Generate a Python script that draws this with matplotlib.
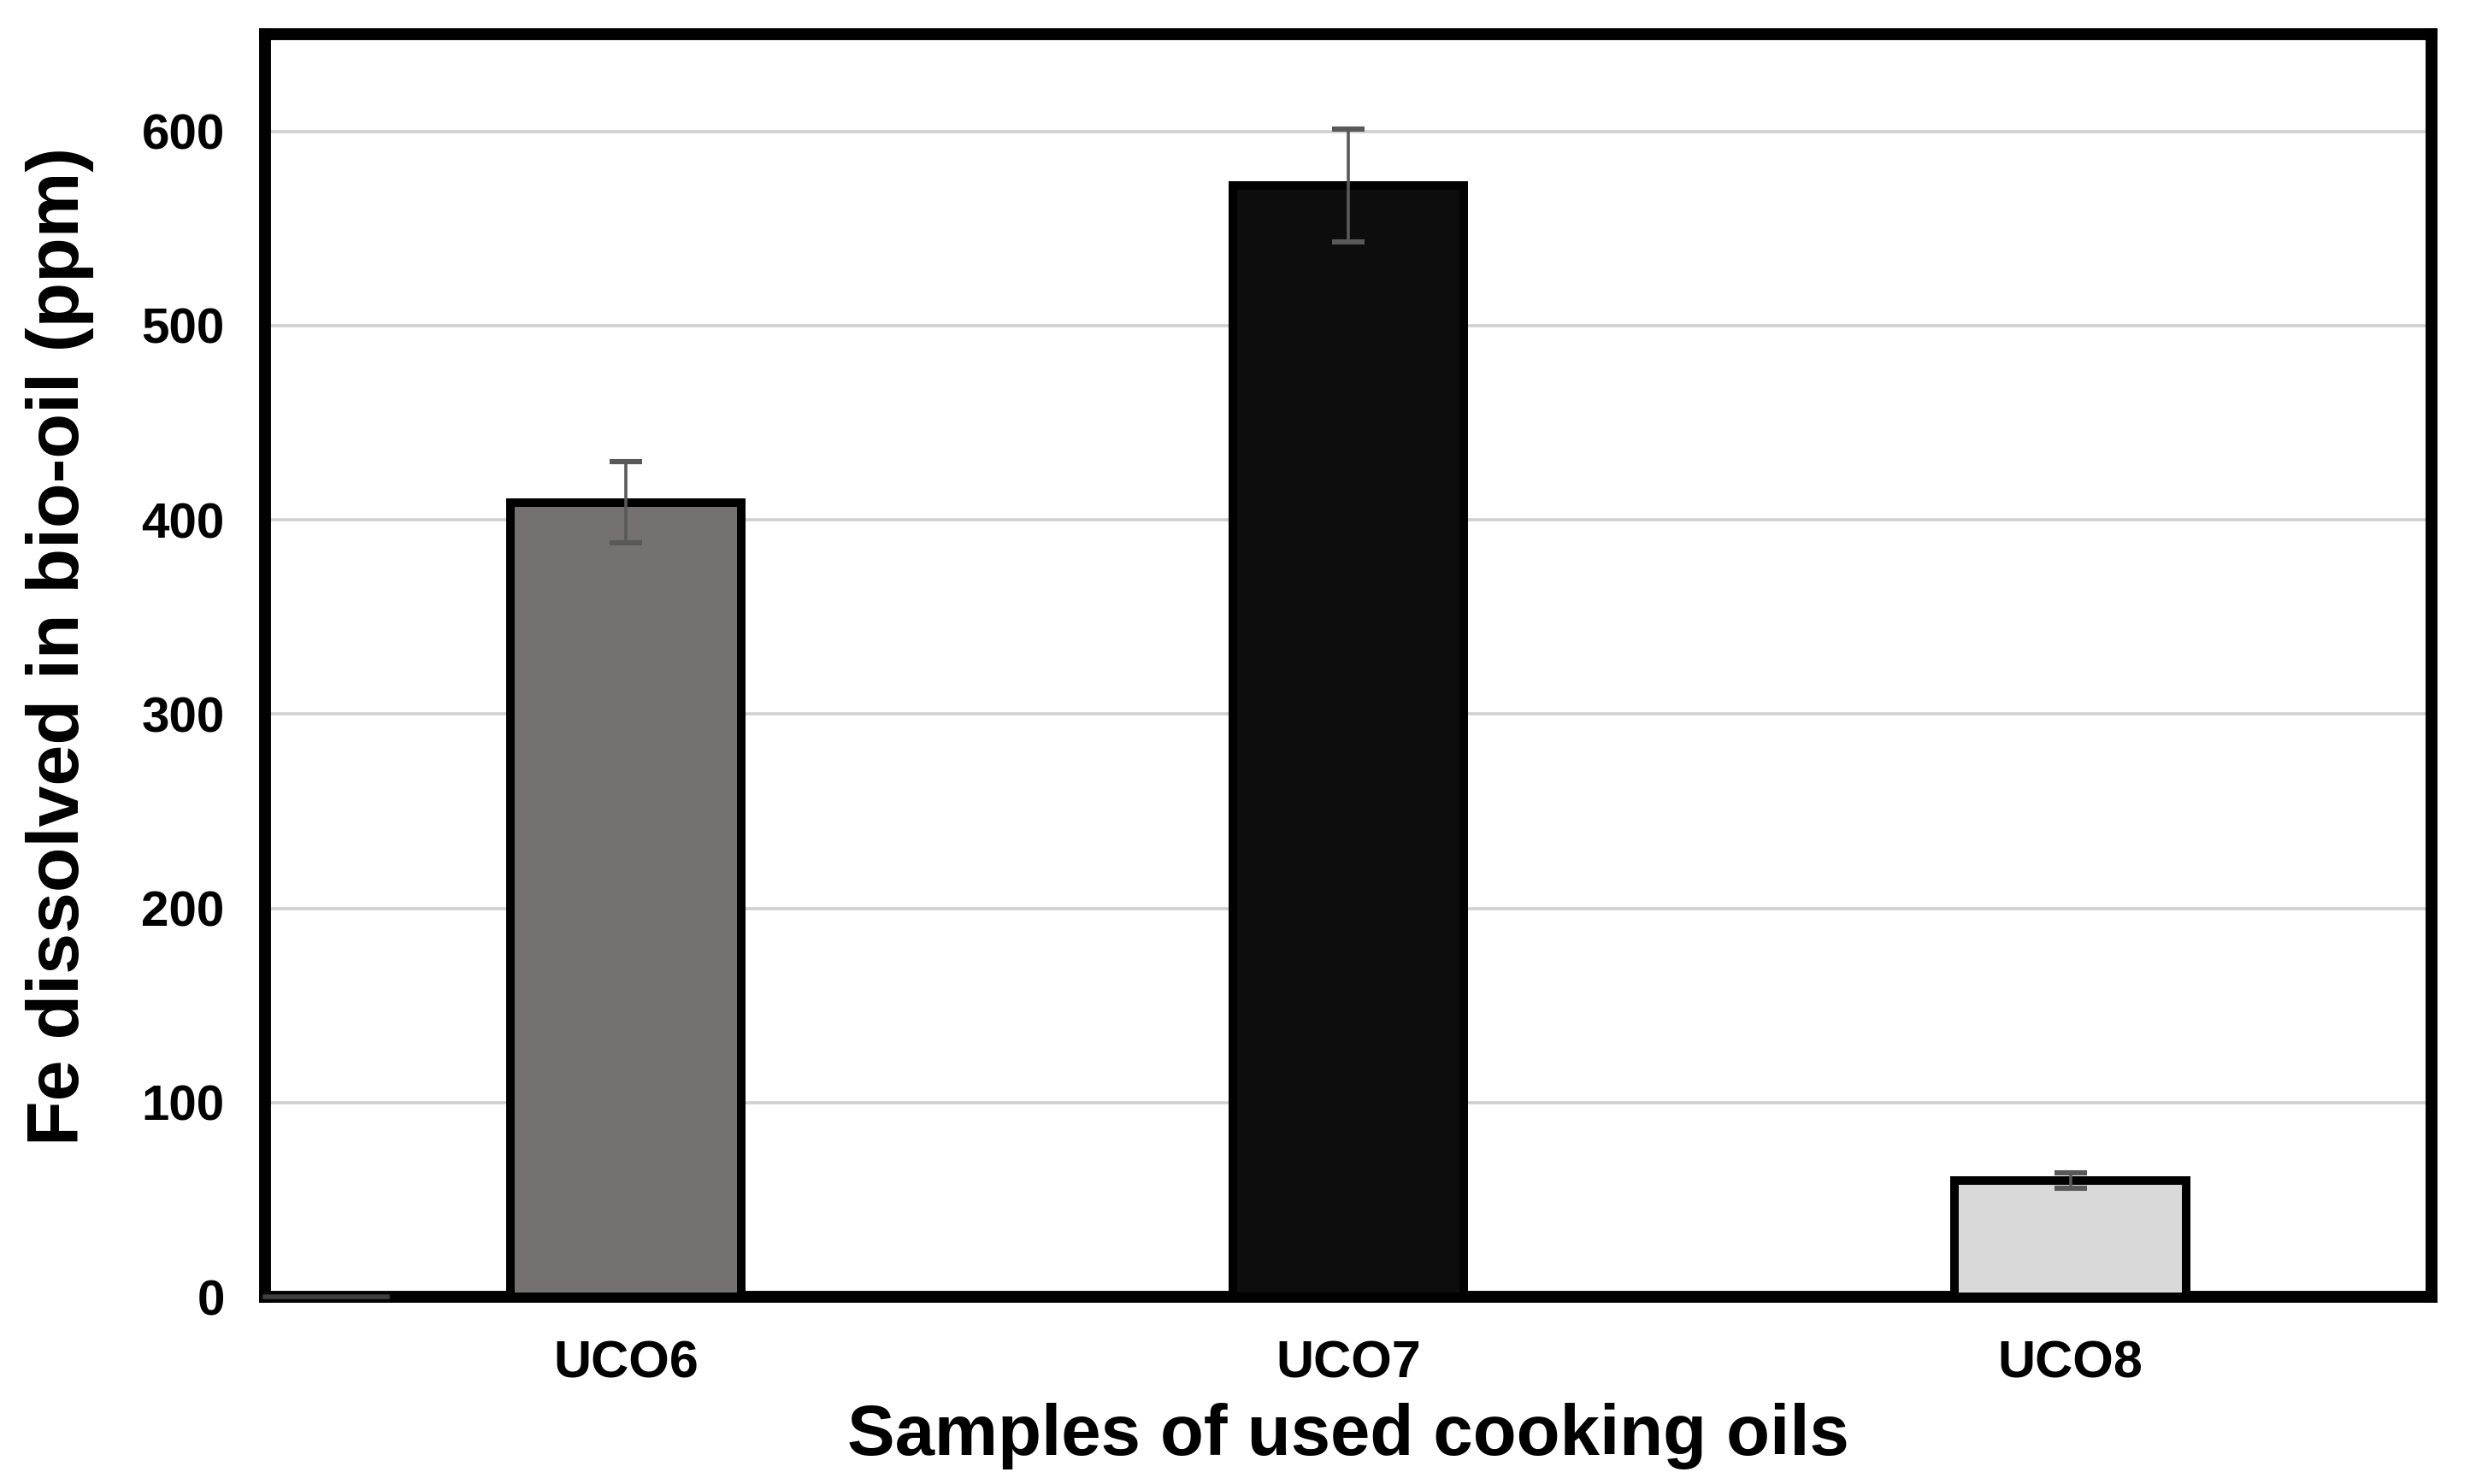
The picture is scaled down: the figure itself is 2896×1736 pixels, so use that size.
import matplotlib
matplotlib.use('Agg')
import matplotlib.pyplot as plt

samples = ['UCO6', 'UCO7', 'UCO8']
fe_ppm = [409, 572, 60]
fe_err = [21, 29, 4]
bar_colors = ['#767171', '#0d0d0d', '#d9d9d9']
y_ticks = [0, 100, 200, 300, 400, 500, 600]

plt.rcParams['font.family'] = ['Liberation Sans', 'DejaVu Sans']
plt.rcParams['font.weight'] = 'bold'

fig = plt.figure(figsize=(14.48, 8.68), dpi=200)
ax = fig.add_axes([0.107, 0.126, 0.875, 0.851])

x = range(len(samples))
ax.bar(x, fe_ppm, width=0.32, color=bar_colors, edgecolor='black',
       linewidth=3.6, zorder=3)
ax.errorbar(x, fe_ppm, yerr=fe_err, fmt='none', ecolor='#595959',
            elinewidth=1.3, capsize=7, capthick=2.2, zorder=4)

# short dark stub at the origin
ax.plot([-0.5, -0.33], [0, 0], color='#404040', linewidth=2, zorder=5,
        clip_on=False)

ax.set_xlim(-0.5, 2.5)
ax.set_ylim(0, 650)
ax.set_yticks(y_ticks)
ax.set_xticks(list(x))
ax.set_xticklabels(samples)
ax.tick_params(axis='y', length=0, labelsize=21, pad=17)
ax.tick_params(axis='x', length=0, labelsize=22, pad=18)
ax.grid(True, axis='y', color='#d0d0d0', linewidth=1.3, zorder=0)
ax.set_axisbelow(True)

for s in ax.spines.values():
    s.set_linewidth(5)
    s.set_color('black')

ax.set_xlabel('Samples of used cooking oils', fontsize=30, fontweight='bold',
              labelpad=6)
ax.set_ylabel('Fe dissolved in bio-oil (ppm)', fontsize=31, fontweight='bold')
ax.yaxis.set_label_coords(-0.079, 0.515)

plt.savefig('out.png', dpi=200)
plt.close()
